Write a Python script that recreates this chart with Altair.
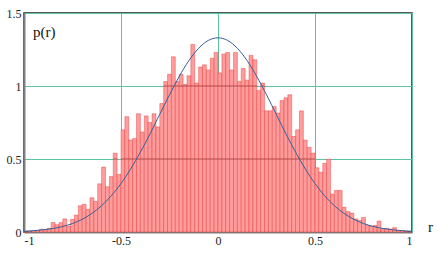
import altair as alt
import pandas as pd

# histogram: 100 bins of width 0.02 over [-1, 1]
bin_start = [round(-1 + 0.02 * i, 2) for i in range(100)]
heights = [
    0.0, 0.005, 0.01, 0.01, 0.02, 0.015, 0.025, 0.065, 0.05, 0.064,
    0.09, 0.04, 0.087, 0.116, 0.18, 0.19, 0.155, 0.235, 0.21, 0.33,
    0.445, 0.31, 0.38, 0.54, 0.395, 0.70, 0.79, 0.63, 0.64, 0.81,
    0.685, 0.795, 0.75, 0.81, 0.72, 0.88, 1.03, 1.08, 1.20, 1.03,
    1.08, 1.01, 1.07, 1.285, 1.02, 1.13, 1.145, 1.11, 1.19, 1.23,
    1.09, 1.22, 1.23, 1.11, 1.23, 1.03, 1.12, 1.04, 1.21, 1.18,
    0.97, 1.02, 0.83, 0.83, 0.86, 0.815, 0.90, 0.92, 0.94, 0.655,
    0.70, 0.83, 0.63, 0.58, 0.54, 0.44, 0.41, 0.47, 0.50, 0.26,
    0.285, 0.285, 0.17, 0.14, 0.13, 0.09, 0.08, 0.10, 0.045, 0.04,
    0.045, 0.075, 0.02, 0.025, 0.02, 0.03, 0.01, 0.01, 0.005, 0.0,
]

# density curve
curve_x = [round(-1 + 0.05 * i, 2) for i in range(41)]
curve_y = [
    0.005, 0.009, 0.015, 0.024, 0.038, 0.058, 0.087, 0.127, 0.180, 0.248,
    0.332, 0.432, 0.547, 0.673, 0.807, 0.940, 1.065, 1.174, 1.258, 1.312,
    1.33,
    1.312, 1.258, 1.174, 1.065, 0.940, 0.807, 0.673, 0.547, 0.432, 0.332,
    0.248, 0.180, 0.127, 0.087, 0.058, 0.038, 0.024, 0.015, 0.009, 0.005,
]

x_ticks = [-1, -0.5, 0, 0.5, 1]
y_ticks = [0, 0.5, 1, 1.5]
grid_levels = [0.5, 1.0]

SERIF = "Liberation Serif, DejaVu Serif, Times New Roman, serif"

bars_df = pd.DataFrame({
    "x0": bin_start,
    "x1": [round(b + 0.02, 2) for b in bin_start],
    "h": heights,
})
curve_df = pd.DataFrame({"r": curve_x, "p": curve_y})

# grid segments that cross over the bars (drawn darker in the reference)
seg_rows = []
for lvl in grid_levels:
    for a, b, h in zip(bars_df["x0"], bars_df["x1"], bars_df["h"]):
        if h > lvl:
            seg_rows.append({"x0": a, "x1": b, "lvl": lvl})
seg_df = pd.DataFrame(seg_rows)

xscale = alt.Scale(domain=[-1, 1], nice=False, zero=False)
yscale = alt.Scale(domain=[0, 1.5], nice=False)

axis_common = dict(title=None, grid=True, gridColor="#5cc4a0", gridWidth=1,
                   domainColor="#808080", domainWidth=2, ticks=False,
                   labelFont=SERIF, labelFontSize=12, labelColor="#222",
                   labelPadding=3, labelExpr="'' + datum.value")
xaxis = alt.Axis(values=x_ticks, **axis_common)
yaxis = alt.Axis(values=y_ticks, **axis_common)

bars = alt.Chart(bars_df).mark_rect(
    fill="#ff9c9c", stroke="#e01818", strokeWidth=0.35
).encode(
    x=alt.X("x0:Q", scale=xscale, axis=xaxis),
    x2="x1:Q",
    y=alt.Y("h:Q", scale=yscale, axis=yaxis),
    y2=alt.datum(0),
)

segs = alt.Chart(seg_df).mark_rule(color="#b04a48", strokeWidth=1).encode(
    x=alt.X("x0:Q", scale=xscale),
    x2="x1:Q",
    y=alt.Y("lvl:Q", scale=yscale),
)

curve = alt.Chart(curve_df).mark_line(
    color="#35609a", strokeWidth=1, interpolate="monotone"
).encode(
    x=alt.X("r:Q", scale=xscale),
    y=alt.Y("p:Q", scale=yscale),
)

plabel = alt.Chart(pd.DataFrame({"t": ["p(r)"]})).mark_text(
    font=SERIF, fontSize=15, align="left", baseline="middle", color="#111"
).encode(x=alt.value(9), y=alt.value(19), text="t:N")

rlabel = alt.Chart(pd.DataFrame({"t": ["r"]})).mark_text(
    font=SERIF, fontSize=15, align="left", baseline="middle", color="#111"
).encode(x=alt.value(404), y=alt.value(214), text="t:N")

chart = alt.layer(bars, segs, curve, plabel, rlabel).properties(
    width=388, height=219,
    padding={"left": 24, "top": 13, "right": 26, "bottom": 22},
    autosize="none",
).configure(
    background="white"
).configure_view(
    stroke="#222", strokeWidth=1.5
)

chart.save("out.html", embed_options={"renderer": "svg", "actions": False})
